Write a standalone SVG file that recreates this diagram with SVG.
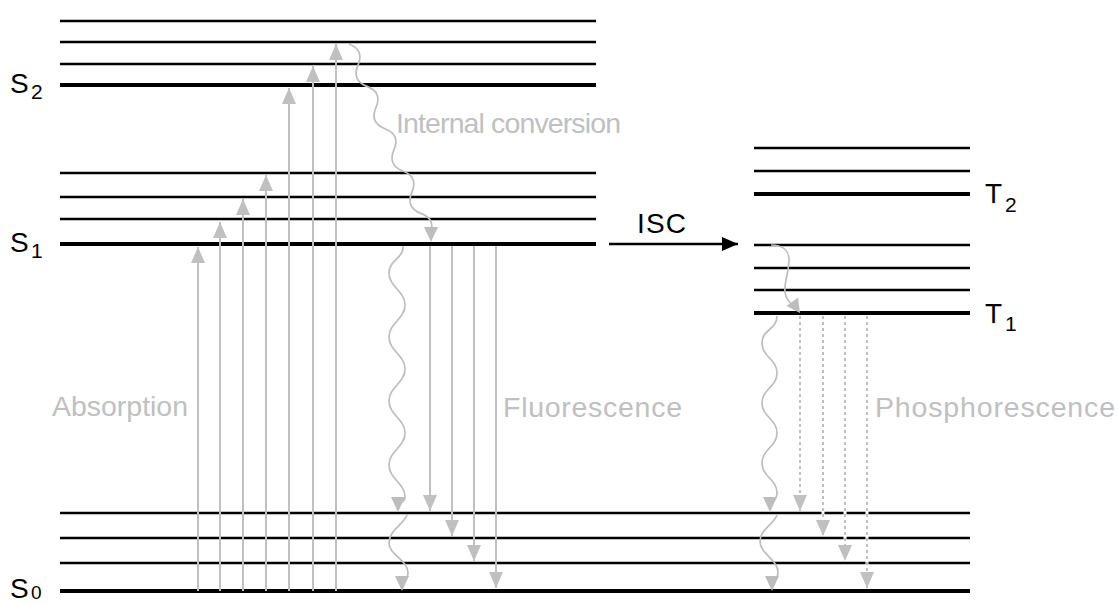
<svg xmlns="http://www.w3.org/2000/svg" width="1118" height="603" viewBox="0 0 1118 603">
<style>
.thin{stroke:#000;stroke-width:2.4;fill:none}
.thick{stroke:#000;stroke-width:4;fill:none}
.lbl{font-family:"Liberation Sans",Arial,sans-serif;fill:#000}
.glbl{font-family:"Liberation Sans",Arial,sans-serif;fill:#C0C0C0;font-size:28.5px}
.arr{stroke:#C0C0C0;stroke-width:2;fill:none;marker-end:url(#gh)}
.dot{stroke:#C0C0C0;stroke-width:2;fill:none;stroke-dasharray:3 3;marker-end:url(#gh)}
.dotbg{stroke:#fff;stroke-width:3;fill:none}
.wave{stroke:#BDBDBD;stroke-width:1.7;fill:none}
.wh{fill:#BDBDBD}
</style>
<defs>
<marker id="gh" markerUnits="userSpaceOnUse" markerWidth="16" markerHeight="14" refX="16" refY="7" orient="auto">
<path d="M0,0 L16,7 L0,14 z" fill="#C0C0C0"/>
</marker>
<marker id="bh" markerUnits="userSpaceOnUse" markerWidth="16" markerHeight="14" refX="16" refY="7" orient="auto">
<path d="M0,0 L16,7 L0,14 z" fill="#000"/>
</marker>
</defs>
<rect width="1118" height="603" fill="#fff"/>

<g id="S2">
<line class="thin" x1="60" y1="21" x2="596" y2="21"/>
<line class="thin" x1="60" y1="42" x2="596" y2="42"/>
<line class="thin" x1="60" y1="64" x2="596" y2="64"/>
<line class="thick" x1="60" y1="85" x2="596" y2="85"/>
<text class="lbl" x="10" y="93" font-size="28">S</text>
<text class="lbl" x="31" y="99" font-size="21">2</text>
</g>
<g id="S1">
<line class="thin" x1="60" y1="173" x2="596" y2="173"/>
<line class="thin" x1="60" y1="197" x2="596" y2="197"/>
<line class="thin" x1="60" y1="219" x2="596" y2="219"/>
<line class="thick" x1="60" y1="244" x2="596" y2="244"/>
<text class="lbl" x="10" y="252" font-size="28">S</text>
<text class="lbl" x="31" y="258" font-size="21">1</text>
</g>
<g id="S0">
<line class="thin" x1="60" y1="513" x2="970" y2="513"/>
<line class="thin" x1="60" y1="538" x2="970" y2="538"/>
<line class="thin" x1="60" y1="563" x2="970" y2="563"/>
<line class="thick" x1="60" y1="591" x2="970" y2="591"/>
<text class="lbl" x="10" y="598" font-size="28">S</text>
<text class="lbl" x="31" y="599" font-size="19">0</text>
</g>
<g id="T2">
<line class="thin" x1="754" y1="148" x2="970" y2="148"/>
<line class="thin" x1="754" y1="171" x2="970" y2="171"/>
<line class="thick" x1="754" y1="194" x2="970" y2="194"/>
<text class="lbl" x="985" y="203" font-size="28">T</text>
<text class="lbl" x="1005" y="212" font-size="21">2</text>
</g>
<g id="T1">
<line class="thin" x1="754" y1="245" x2="970" y2="245"/>
<line class="thin" x1="754" y1="268" x2="970" y2="268"/>
<line class="thin" x1="754" y1="290" x2="970" y2="290"/>
<line class="thick" x1="754" y1="313" x2="970" y2="313"/>
<text class="lbl" x="985" y="323" font-size="28">T</text>
<text class="lbl" x="1005" y="331" font-size="21">1</text>
</g>

<g id="connectors">
<!-- absorption -->
<line class="arr" x1="198" y1="591" x2="198" y2="247"/>
<line class="arr" x1="220" y1="591" x2="220" y2="222"/>
<line class="arr" x1="243" y1="591" x2="243" y2="199"/>
<line class="arr" x1="266" y1="591" x2="266" y2="175"/>
<line class="arr" x1="289" y1="591" x2="289" y2="88"/>
<line class="arr" x1="313" y1="591" x2="313" y2="66"/>
<line class="arr" x1="336" y1="591" x2="336" y2="44"/>
<!-- fluorescence -->
<line class="arr" x1="430" y1="246" x2="430" y2="511"/>
<line class="arr" x1="452" y1="246" x2="452" y2="536"/>
<line class="arr" x1="474" y1="246" x2="474" y2="561"/>
<line class="arr" x1="496" y1="246" x2="496" y2="588"/>
<!-- phosphorescence -->
<line class="dotbg" x1="800" y1="316" x2="800" y2="497"/>
<line class="dotbg" x1="823" y1="316" x2="823" y2="522"/>
<line class="dotbg" x1="845" y1="316" x2="845" y2="547"/>
<line class="dotbg" x1="867" y1="316" x2="867" y2="574"/>
<line class="dot" x1="800" y1="316" x2="800" y2="511"/>
<line class="dot" x1="823" y1="316" x2="823" y2="536"/>
<line class="dot" x1="845" y1="316" x2="845" y2="561"/>
<line class="dot" x1="867" y1="316" x2="867" y2="588"/>
<!-- internal conversion S2 -> S1 -->
<path class="wave" transform="translate(349,44) rotate(-23)" d="M0,0 Q12,11.5 0,23 T0,46 T0,69 T0,92 T0,115 T0,138 T0,161 T0,184 T0,207"/>
<path class="wh" d="M431,242 L424,227 L438,227 z"/>
<!-- S1 -> S0 vibrational / IC -->
<path class="wave" d="M403,246 C404,258 389,260 389,273 C389,287 405,291 405,305 C405,319 389,323 389,337 S405,355 405,369 S389,387 389,401 S405,419 405,433 S389,451 389,465 S405,483 405,497 C405,501 402,502 400,503"/>
<path class="wh" d="M398,512 L391,497 L405,497 z"/>
<path class="wave" d="M407,515 C404,524 389,530 389,543 C389,555 408,560 408,573 C408,578 405,580 403,582"/>
<path class="wh" d="M402,591 L395,576 L409,576 z"/>
<!-- T manifold relaxation -->
<path class="wave" d="M771,245 C782,245 789,250 789,260 C789,272 784,282 785,292 C786,300 790,303 793,305"/>
<path class="wh" d="M800,313 L798,297.5 L786.5,306 z"/>
<path class="wave" d="M777,316 C777,330 762,329 762,343 S777,359 777,373 S762,389 762,403 S777,419 777,433 S762,449 762,463 S777,479 777,493 C777,499 774,500 772,502"/>
<path class="wh" d="M770,512 L763,497 L777,497 z"/>
<path class="wave" d="M777,515 C774,524 760,530 760,541 C760,554 778,560 778,572 C778,578 775,580 773,582"/>
<path class="wh" d="M772,591 L765,576 L779,576 z"/>
<!-- ISC -->
<line x1="609" y1="244" x2="738" y2="244" stroke="#000" stroke-width="2.4" marker-end="url(#bh)"/>
</g>

<g id="labels">
<text class="glbl" x="52" y="416" textLength="136" lengthAdjust="spacing">Absorption</text>
<text class="glbl" x="503" y="417" textLength="179" lengthAdjust="spacing">Fluorescence</text>
<text class="glbl" x="875" y="417" textLength="240" lengthAdjust="spacing">Phosphorescence</text>
<text class="glbl" x="396" y="133" textLength="225" lengthAdjust="spacing">Internal conversion</text>
<text class="lbl" x="637" y="233" font-size="28" textLength="49" lengthAdjust="spacing">ISC</text>
</g>
</svg>
